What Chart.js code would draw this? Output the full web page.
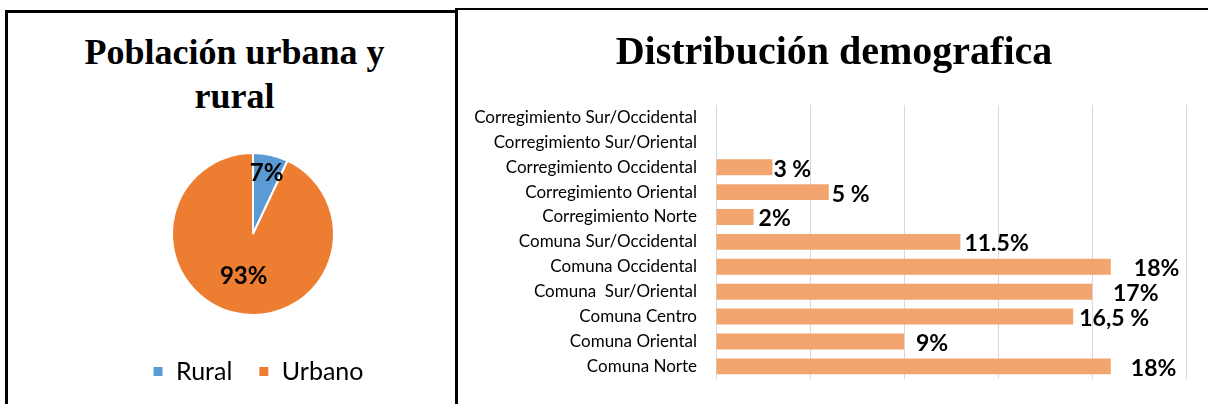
<!DOCTYPE html>
<html>
<head>
<meta charset="utf-8">
<script src="https://cdn.jsdelivr.net/npm/chart.js@4.4.1/dist/chart.umd.min.js"></script>
<style>
  html, body { margin: 0; padding: 0; background: #fff; }
  body { width: 1208px; height: 404px; overflow: hidden; position: relative; }
  #leftBox {
    position: absolute; left: 5px; top: 10px; width: 447px; height: 420px;
    border-left: 3px solid #000; border-top: 3px solid #000; border-right: 3px solid #000;
  }
  #rightBox {
    position: absolute; left: 455px; top: 8px; width: 760px; height: 420px;
    border-top: 2px solid #000;
  }
  #pieTitle {
    position: absolute; left: 11px; top: 30px; width: 447px; text-align: center;
    font-family: "Liberation Serif", serif; font-weight: bold; font-size: 36px; line-height: 44px;
    color: #000;
  }
  #pieWrap { position: absolute; left: 8px; top: 135px; width: 446px; height: 269px; }
  #barWrap { position: absolute; left: 457px; top: 11px; width: 751px; height: 397px; }
</style>
</head>
<body>
<div id="leftBox"></div>
<div id="rightBox"></div>
<div id="pieTitle">Población urbana y<br>rural</div>
<div id="pieWrap"><canvas id="pieChart"></canvas></div>
<div id="barWrap"><canvas id="barChart"></canvas></div>

<script>
// pie data
const pieCategories = ["Rural", "Urbano"];
const pieValues = [7, 93];
const pieColors = ["#5B9BD5", "#ED7D31"];

// bar data (Excel order, bottom to top)
const barCategories = [
  "Comuna Norte",
  "Comuna Oriental",
  "Comuna Centro",
  "Comuna  Sur/Oriental",
  "Comuna Occidental",
  "Comuna Sur/Occidental",
  "Corregimiento Norte",
  "Corregimiento Oriental",
  "Corregimiento Occidental",
  "Corregimiento Sur/Oriental",
  "Corregimiento Sur/Occidental",
];
const barValues = [21, 10, 19, 20, 21, 13, 2, 6, 3, 0, 0];
const barLabels = ["18%", "9%", "16,5 %", "17%", "18%", "11.5%", "2%", "5 %", "3 %", "", ""];

const sansFont = "Lato, 'Open Sans', sans-serif";

// draws the percentage inside each slice
const pieLabelPlugin = {
  id: "pieLabels",
  afterLayout(chart, args, opts) {
    // legend sits a little right of the pie in the original
    chart.legend.left += opts.legendShift;
    chart.legend.right += opts.legendShift;
  },
  afterDatasetsDraw(chart, args, opts) {
    const ctx = chart.ctx;
    const meta = chart.getDatasetMeta(0);
    ctx.save();
    ctx.font = "bold 24px " + sansFont;
    ctx.fillStyle = "#000";
    ctx.textAlign = "center";
    ctx.textBaseline = "middle";
    meta.data.forEach((arc, i) => {
      const mid = (arc.startAngle + arc.endAngle) / 2;
      const r = arc.outerRadius * opts.radial[i];
      ctx.fillText(pieValues[i] + "%", arc.x + Math.cos(mid) * r, arc.y + Math.sin(mid) * r);
    });
    ctx.restore();
  },
};

// typed labels at the end of each bar
const barLabelPlugin = {
  id: "barLabels",
  afterLayout(chart, args, opts) {
    // title is centred on the whole panel, not on the padded box
    chart.titleBlock.left += opts.titleShift;
    chart.titleBlock.right += opts.titleShift;
  },
  afterDatasetsDraw(chart, args, opts) {
    const ctx = chart.ctx;
    const meta = chart.getDatasetMeta(0);
    ctx.save();
    ctx.font = "bold 23px " + sansFont;
    ctx.fillStyle = "#000";
    ctx.textAlign = "left";
    ctx.textBaseline = "middle";
    meta.data.forEach((bar, i) => {
      if (!barLabels[i]) return;
      ctx.fillText(barLabels[i], bar.x + opts.gap[i], bar.y + 2);
    });
    ctx.restore();
  },
};

new Chart(document.getElementById("pieChart"), {
  type: "pie",
  data: {
    labels: pieCategories,
    datasets: [{
      data: pieValues,
      backgroundColor: pieColors,
      borderColor: "#fff",
      borderWidth: 2,
      radius: 81,
    }],
  },
  options: {
    responsive: true,
    maintainAspectRatio: false,
    animation: false,
    layout: { padding: { left: 44, bottom: 10 } },
    plugins: {
      legend: {
        position: "bottom",
        labels: {
          boxWidth: 11,
          boxHeight: 11,
          padding: 26,
          color: "#000",
          font: { family: sansFont, size: 25 },
        },
      },
      tooltip: { enabled: false },
      pieLabels: { radial: [0.77, 0.53], legendShift: 5 },
    },
  },
  plugins: [pieLabelPlugin],
});

new Chart(document.getElementById("barChart"), {
  type: "bar",
  data: {
    labels: barCategories,
    datasets: [{
      data: barValues,
      backgroundColor: "#F2A56E",
      barPercentage: 0.8,
      categoryPercentage: 0.8,
    }],
  },
  options: {
    indexAxis: "y",
    responsive: true,
    maintainAspectRatio: false,
    animation: false,
    layout: { padding: { left: 9, right: 22, bottom: 0 } },
    scales: {
      x: {
        min: 0,
        max: 25,
        ticks: { stepSize: 5, display: false },
        grid: { color: "#d9d9d9", drawTicks: false },
        border: { display: false },
      },
      y: {
        reverse: true,
        afterFit: (scale) => { scale.width = 250; },
        grid: { display: false, drawTicks: false },
        border: { display: false },
        ticks: {
          padding: 19,
          color: "#000",
          font: { family: sansFont, size: 17 },
        },
      },
    },
    plugins: {
      legend: { display: false },
      tooltip: { enabled: false },
      title: {
        display: true,
        text: "Distribución demografica",
        color: "#000",
        font: { family: "'Liberation Serif', serif", size: 40, weight: "bold" },
        padding: { top: 19, bottom: 27 },
      },
      barLabels: { gap: [20, 12, 6, 21, 23, 4, 5, 3, 1, 0, 0], titleShift: 8 },
    },
  },
  plugins: [barLabelPlugin],
});
</script>
</body>
</html>
